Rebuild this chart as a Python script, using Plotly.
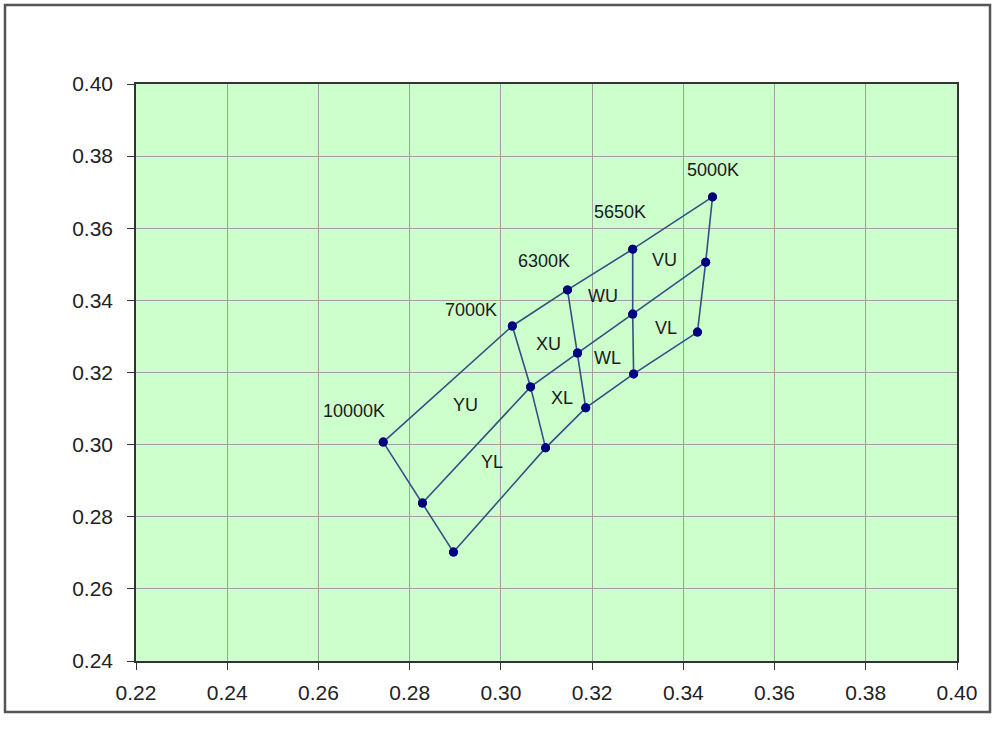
import plotly.graph_objects as go

# Chromaticity quadrangle data (CIE x, y)
cct_labels = ["10000K", "7000K", "6300K", "5650K", "5000K"]
upper_x = [0.2742, 0.3025, 0.3146, 0.3289, 0.3464]
upper_y = [0.3007, 0.3329, 0.3429, 0.3542, 0.3687]
mid_x = [0.2828, 0.3065, 0.3168, 0.3289, 0.3449]
mid_y = [0.2838, 0.3160, 0.3254, 0.3362, 0.3506]
low_x = [0.2896, 0.3098, 0.3186, 0.3291, 0.3431]
low_y = [0.2702, 0.2991, 0.3102, 0.3196, 0.3312]

region_labels = ["VU", "VL", "WU", "WL", "XU", "XL", "YU", "YL"]
region_x = [0.3359, 0.3363, 0.3223, 0.3234, 0.3104, 0.3135, 0.2922, 0.2981]
region_y = [0.3512, 0.3323, 0.3412, 0.3240, 0.3279, 0.3129, 0.3110, 0.2952]

x_ticks = [0.22, 0.24, 0.26, 0.28, 0.30, 0.32, 0.34, 0.36, 0.38, 0.40]
y_ticks = [0.24, 0.26, 0.28, 0.30, 0.32, 0.34, 0.36, 0.38, 0.40]

LINE = "#2E5282"
MARK = "#000080"
FONT = "Liberation Sans, Arial, sans-serif"

fig = go.Figure()
for xs, ys in [(upper_x, upper_y), (mid_x, mid_y), (low_x, low_y)]:
    fig.add_trace(go.Scatter(x=xs, y=ys, mode="lines+markers",
                             line=dict(color=LINE, width=1.6),
                             marker=dict(color=MARK, size=9, symbol="circle"),
                             showlegend=False, hoverinfo="x+y"))
for i in range(len(cct_labels)):
    fig.add_trace(go.Scatter(x=[upper_x[i], mid_x[i], low_x[i]],
                             y=[upper_y[i], mid_y[i], low_y[i]],
                             mode="lines+markers",
                             line=dict(color=LINE, width=1.6),
                             marker=dict(color=MARK, size=9, symbol="circle"),
                             showlegend=False, hoverinfo="x+y"))

# CCT labels offset (px) from the upper corner points
shifts = [(-29, 31), (-41, 16), (-23, 29), (-13, 37), (0, 27)]
for i, lab in enumerate(cct_labels):
    fig.add_annotation(x=upper_x[i], y=upper_y[i], text=lab, showarrow=False,
                       xshift=shifts[i][0], yshift=shifts[i][1],
                       font=dict(family=FONT, size=18, color="#1a1a1a"))
for lab, x, y in zip(region_labels, region_x, region_y):
    fig.add_annotation(x=x, y=y, text=lab, showarrow=False,
                       font=dict(family=FONT, size=18, color="#1a1a1a"))

W, H = 995, 740
L, R, T, B = 136, 38, 84, 79
pw, ph = W - L - R, H - T - B

def px_to_paper(px, py):
    return (px - L) / pw, (H - B - py) / ph

x0, y1 = px_to_paper(5, 5)
x1, y0 = px_to_paper(990, 712)
fig.add_shape(type="rect", xref="paper", yref="paper", x0=x0, y0=y0, x1=x1, y1=y1,
              line=dict(color="#555555", width=2.5), fillcolor="rgba(0,0,0,0)", layer="below")

axis_common = dict(showgrid=True, gridcolor="#a0a0a0", gridwidth=1,
                   showline=True, linecolor="#333333", linewidth=1.5, mirror=True,
                   ticks="outside", ticklen=7, tickcolor="#333333",
                   tickfont=dict(family=FONT, size=21, color="#222222"),
                   zeroline=False, tickformat=".2f")
fig.update_xaxes(range=[0.22, 0.40], tickvals=x_ticks, ticklabelstandoff=5, **axis_common)
fig.update_yaxes(range=[0.24, 0.40], tickvals=y_ticks, ticklabelstandoff=10, **axis_common)

fig.update_layout(width=W, height=H, margin=dict(l=L, r=R, t=T, b=B),
                  plot_bgcolor="#CCFFCC", paper_bgcolor="white",
                  font=dict(family=FONT))

fig.write_html("out.html", config={"displayModeBar": False},
               post_script="document.body.style.margin='0px';document.body.style.overflow='hidden';")
